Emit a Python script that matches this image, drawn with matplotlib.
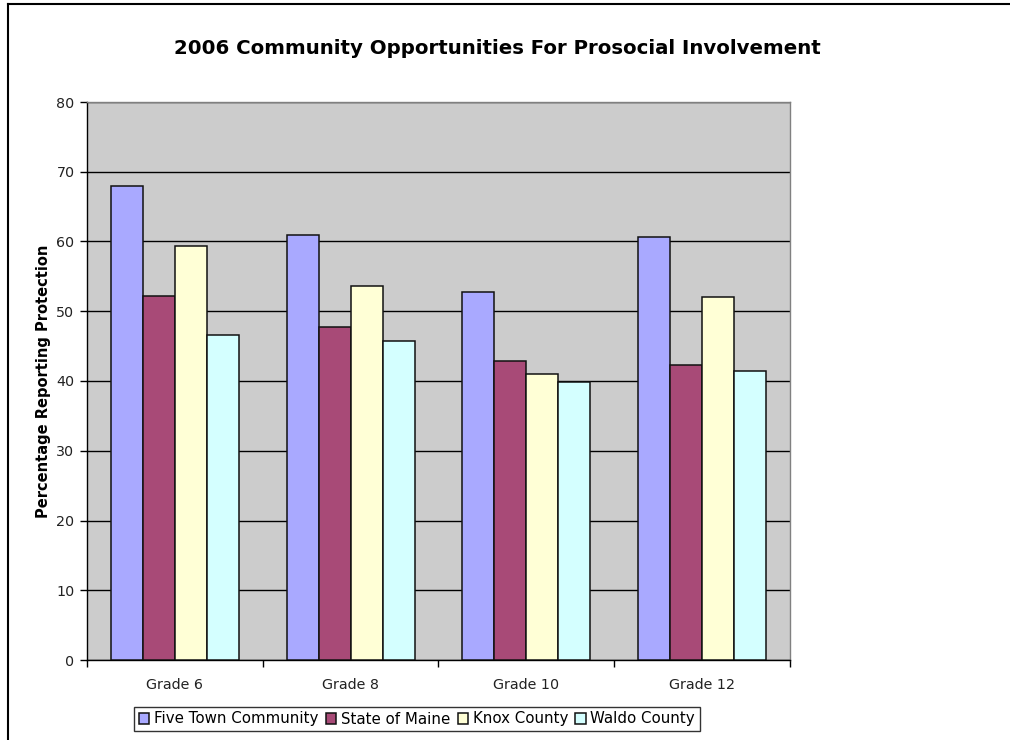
import matplotlib
matplotlib.use("Agg")
import matplotlib.pyplot as plt
from matplotlib.lines import Line2D
import numpy as np

categories = ["Grade 6", "Grade 8", "Grade 10", "Grade 12"]
series_names = ["Five Town Community", "State of Maine", "Knox County", "Waldo County"]
five_town = [67.9, 61.0, 52.7, 60.7]
state_of_maine = [52.2, 47.8, 42.9, 42.3]
knox_county = [59.4, 53.6, 41.0, 52.0]
waldo_county = [46.6, 45.8, 39.9, 41.4]
yticks = [0, 10, 20, 30, 40, 50, 60, 70, 80]

colors = ["#A9A9FF", "#A84A77", "#FFFFD6", "#D4FFFF"]
series = [five_town, state_of_maine, knox_county, waldo_county]

plt.rcParams['font.family'] = ['DejaVu Sans']

W, H = 1010, 740
fig = plt.figure(figsize=(W / 100, H / 100), dpi=100)
fig.patch.set_facecolor("white")

left, right, top, bottom = 87, 790, 102, 660
ax = fig.add_axes([left / W, 1 - bottom / H, (right - left) / W, (bottom - top) / H])
ax.set_facecolor("#CCCCCC")

x = np.arange(len(categories))
w = 1 / 5.5
for i, (vals, c, name) in enumerate(zip(series, colors, series_names)):
    ax.bar(x + (i - 1.5) * w, vals, width=w, color=c, edgecolor="#111111",
           linewidth=1.1, label=name, zorder=3)

ax.set_xlim(-0.5, 3.5)
ax.set_ylim(0, 80)
ax.set_yticks(yticks)
ax.set_yticklabels([str(v) for v in yticks], fontsize=10.3, color="#222222")
ax.yaxis.grid(True, color="#000000", linewidth=1.0, zorder=0)
ax.set_axisbelow(True)

ax.set_xticks(np.arange(-0.5, 4.0, 1.0), minor=False)
ax.set_xticklabels([])
ax.set_xticks(x, minor=True)
ax.set_xticklabels(categories, minor=True, fontsize=10.3, color="#222222")
ax.tick_params(axis="x", which="minor", length=0, pad=13)
ax.tick_params(axis="x", which="major", length=5, direction="out", width=1)
ax.tick_params(axis="y", length=5, direction="out", width=1, pad=4)

for s in ["top", "right"]:
    ax.spines[s].set_color("#808080")
    ax.spines[s].set_linewidth(1.0)
for s in ["left", "bottom"]:
    ax.spines[s].set_color("#000000")
    ax.spines[s].set_linewidth(1.0)

ax.set_ylabel("Percentage Reporting Protection", fontsize=10.5, fontweight="bold", labelpad=4)

fig.text(497 / W, 1 - 48 / H, "2006 Community Opportunities For Prosocial Involvement",
         ha="center", va="center", fontsize=14.2, fontweight="bold")

leg = fig.legend(loc="center", bbox_to_anchor=(417 / W, 1 - 719 / H), ncol=4,
                 fontsize=10.8, frameon=True, fancybox=False, edgecolor="#000000",
                 handlelength=0.7, handleheight=0.7, handletextpad=0.3,
                 columnspacing=0.5, borderpad=0.3, borderaxespad=0)
leg.get_frame().set_linewidth(1.0)

# chart area frame (top and left edges)
fig.add_artist(Line2D([8 / W, 1], [1 - 4 / H, 1 - 4 / H], color="#000000", linewidth=1.5))
fig.add_artist(Line2D([8 / W, 8 / W], [0, 1 - 4 / H], color="#000000", linewidth=1.5))

fig.savefig("out.png", dpi=100)
